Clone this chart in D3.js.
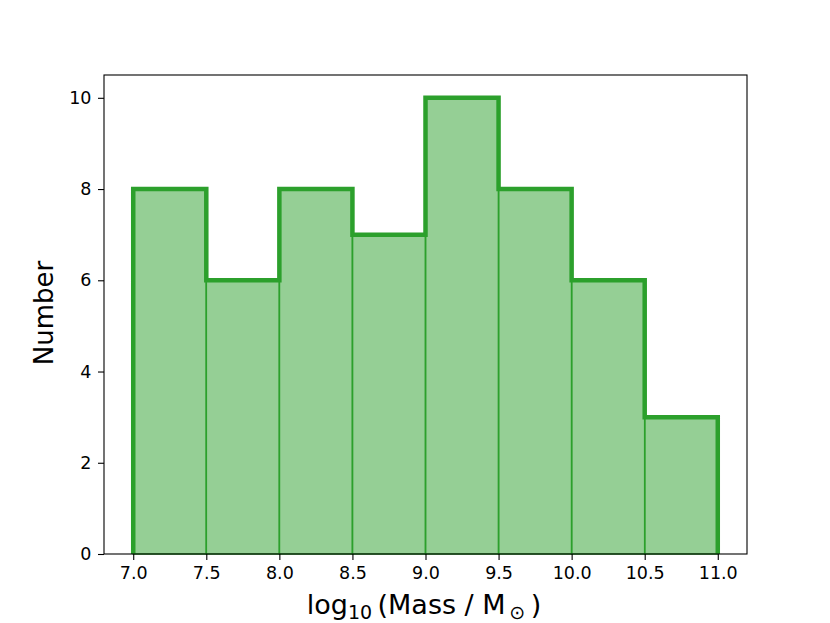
<!DOCTYPE html>
<html><head><meta charset="utf-8">
<script src="https://cdn.jsdelivr.net/npm/d3@7"></script>
<style>body{margin:0;background:#fff}svg{display:block}text{font-family:"DejaVu Sans",sans-serif}</style>
</head><body>
<svg id="c" width="830" height="623"></svg>
<script>
const binEdges = [7.0, 7.5, 8.0, 8.5, 9.0, 9.5, 10.0, 10.5, 11.0];
const counts = [8, 6, 8, 7, 10, 8, 6, 3];
const xTicks = [7.0, 7.5, 8.0, 8.5, 9.0, 9.5, 10.0, 10.5, 11.0];
const yTicks = [0, 2, 4, 6, 8, 10];

const svg = d3.select("#c");
const L = 104, R = 747, T = 75, B = 554;
const x = d3.scaleLinear().domain([6.8, 11.2]).range([L, R]);
const y = d3.scaleLinear().domain([0, 10.5]).range([B, T]);
const green = "#2ca02c";

const bins = counts.map((c, i) => ({x0: binEdges[i], x1: binEdges[i+1], c}));
svg.append("g").selectAll("rect").data(bins).join("rect")
  .attr("x", d => x(d.x0)).attr("width", d => x(d.x1) - x(d.x0))
  .attr("y", d => y(d.c)).attr("height", d => y(0) - y(d.c))
  .attr("fill", green).attr("fill-opacity", 0.5)
  .attr("stroke", green).attr("stroke-width", 1.5);

// step outline
const pts = [[binEdges[0], 0]];
bins.forEach(d => { pts.push([d.x0, d.c]); pts.push([d.x1, d.c]); });
pts.push([binEdges[binEdges.length-1], 0]);
svg.append("path").attr("d", d3.line().x(p => x(p[0])).y(p => y(p[1]))(pts))
  .attr("fill", "none").attr("stroke", green).attr("stroke-width", 4.5)
  .attr("stroke-linejoin", "miter");

// frame
svg.append("rect").attr("x", L).attr("y", T).attr("width", R - L).attr("height", B - T)
  .attr("fill", "none").attr("stroke", "#000").attr("stroke-width", 1.1);

const fmt = d3.format(".1f");
const xa = svg.append("g").attr("transform", `translate(0,${B})`)
  .call(d3.axisBottom(x).tickValues(xTicks).tickFormat(fmt).tickSize(6).tickPadding(6.5));
const ya = svg.append("g").attr("transform", `translate(${L},0)`)
  .call(d3.axisLeft(y).tickValues(yTicks).tickFormat(d3.format("d")).tickSize(6).tickPadding(6.5));
[xa, ya].forEach(a => {
  a.select(".domain").remove();
  a.selectAll("line").attr("stroke", "#000").attr("stroke-width", 1.1);
  a.selectAll("text").attr("fill", "#000").style("font-size", "17.5px").style("font-family", '"DejaVu Sans",sans-serif');
});

svg.append("text").attr("transform", "translate(53,313) rotate(-90)")
  .attr("text-anchor", "middle").style("font-size", "26px").text("Number");

const xl = svg.append("text").attr("x", 424).attr("y", 614).attr("text-anchor", "middle").style("font-size", "27px");
xl.append("tspan").text("log");
xl.append("tspan").attr("dy", 5).style("font-size", "19px").text("10");
xl.append("tspan").attr("dy", -5).text("\u2009(Mass / M");
xl.append("tspan").attr("dy", 5).style("font-size", "19px").text("\u2009\u2299");
xl.append("tspan").attr("dy", -5).text("\u2009)");
</script>
</body></html>
